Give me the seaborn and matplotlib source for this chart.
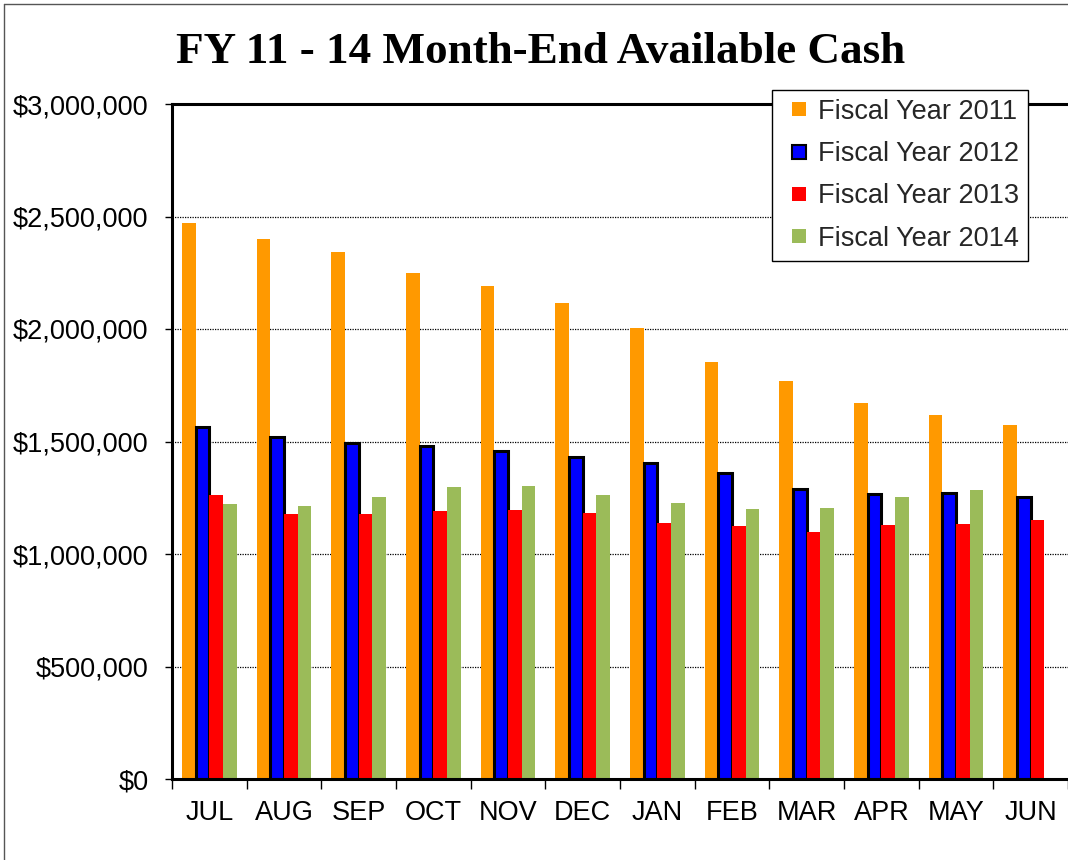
import matplotlib
matplotlib.use("Agg")
import matplotlib.pyplot as plt
import matplotlib.ticker as mticker
from matplotlib.lines import Line2D
import seaborn as sns
import pandas as pd
import numpy as np

months = ["JUL", "AUG", "SEP", "OCT", "NOV", "DEC", "JAN", "FEB", "MAR", "APR", "MAY", "JUN"]
series_names = ["Fiscal Year 2011", "Fiscal Year 2012", "Fiscal Year 2013", "Fiscal Year 2014"]
fy2011 = [2471000, 2398000, 2343000, 2250000, 2192000, 2117000, 2006000, 1854000, 1771000, 1672000, 1618000, 1574000]
fy2012 = [1563000, 1518000, 1492000, 1479000, 1460000, 1432000, 1405000, 1362000, 1290000, 1268000, 1272000, 1252000]
fy2013 = [1263000, 1179000, 1176000, 1189000, 1194000, 1184000, 1136000, 1124000, 1097000, 1131000, 1134000, 1149000]
fy2014 = [1222000, 1212000, 1252000, 1296000, 1302000, 1263000, 1226000, 1201000, 1205000, 1252000, 1283000, np.nan]
colors = ["#FF9900", "#0000FF", "#FF0000", "#9BBB59"]

rows = []
for name, vals in zip(series_names, [fy2011, fy2012, fy2013, fy2014]):
    for m, v in zip(months, vals):
        rows.append({"Month": m, "Series": name, "Cash": v})
df = pd.DataFrame(rows)

sns.set_theme(style="white")
plt.rcParams["font.family"] = ["Liberation Sans", "DejaVu Sans"]

W, H = 1068, 860
fig = plt.figure(figsize=(W / 100, H / 100), dpi=100)
ax = fig.add_axes([172 / W, (H - 779) / H, (W - 172) / W, (779 - 104) / H])

sns.barplot(data=df, x="Month", y="Cash", hue="Series", order=months,
            hue_order=series_names, palette=colors, width=0.735, gap=0,
            saturation=1, ax=ax, legend=False, linewidth=0)

# black edge on FY2012 bars
for i, cont in enumerate(ax.containers):
    for p in cont:
        if i == 1:
            p.set_edgecolor("black")
            p.set_linewidth(2.2)
        else:
            p.set_linewidth(0)

ax.set_xlim(-0.5, 11.5)
ax.set_ylim(0, 3000000)
ax.yaxis.set_major_locator(mticker.MultipleLocator(500000))
ax.yaxis.set_major_formatter(mticker.FuncFormatter(lambda v, p: "${:,.0f}".format(v)))
ax.set_xlabel("")
ax.set_ylabel("")

ax.grid(axis="y", color="black", linestyle=(0, (1, 1)), linewidth=0.9)
ax.set_axisbelow(True)

for s in ["left", "bottom", "top"]:
    ax.spines[s].set_visible(True)
    ax.spines[s].set_color("black")
    ax.spines[s].set_linewidth(2.2)
ax.spines["right"].set_visible(False)

fs = 19.5
ax.set_xticks(np.arange(12))
ax.set_xticklabels(months)
ax.set_xticks(np.arange(-0.5, 12, 1), minor=True)
ax.tick_params(axis="x", which="major", length=0, pad=15, labelsize=fs, colors="black")
ax.tick_params(axis="x", which="minor", length=7, width=1, color="black", direction="out", bottom=True)
ax.tick_params(axis="y", which="major", length=5, width=1, color="black", direction="out",
               left=True, labelsize=fs, pad=12, labelcolor="black")

handles = []
for c in colors:
    is_blue = c == "#0000FF"
    handles.append(Line2D([], [], linestyle="none", marker="s", markersize=10,
                          markerfacecolor=c,
                          markeredgecolor="black" if is_blue else c,
                          markeredgewidth=1.5 if is_blue else 0))
leg = ax.legend(handles, series_names, loc="upper left",
                bbox_to_anchor=(772 / W, 1 - 90 / H),
                bbox_transform=fig.transFigure, frameon=True, fancybox=False,
                edgecolor="black", fontsize=fs, handlelength=1.3,
                handletextpad=0.05, labelspacing=0.6, borderpad=0.33, borderaxespad=0,
                framealpha=1)
leg.get_frame().set_linewidth(1.0)

fig.text(541 / W, 1 - 52 / H, "FY 11 - 14 Month-End Available Cash",
         ha="center", va="center", fontsize=32.5, fontweight="bold",
         family=["Liberation Serif", "DejaVu Serif"], color="black")

fig.add_artist(Line2D([4 / W, 1.0], [1 - 4 / H, 1 - 4 / H], transform=fig.transFigure, color="#555555", lw=1))
fig.add_artist(Line2D([4 / W, 4 / W], [0, 1 - 4 / H], transform=fig.transFigure, color="#555555", lw=1))

fig.savefig("out.png", dpi=100, facecolor="white")
